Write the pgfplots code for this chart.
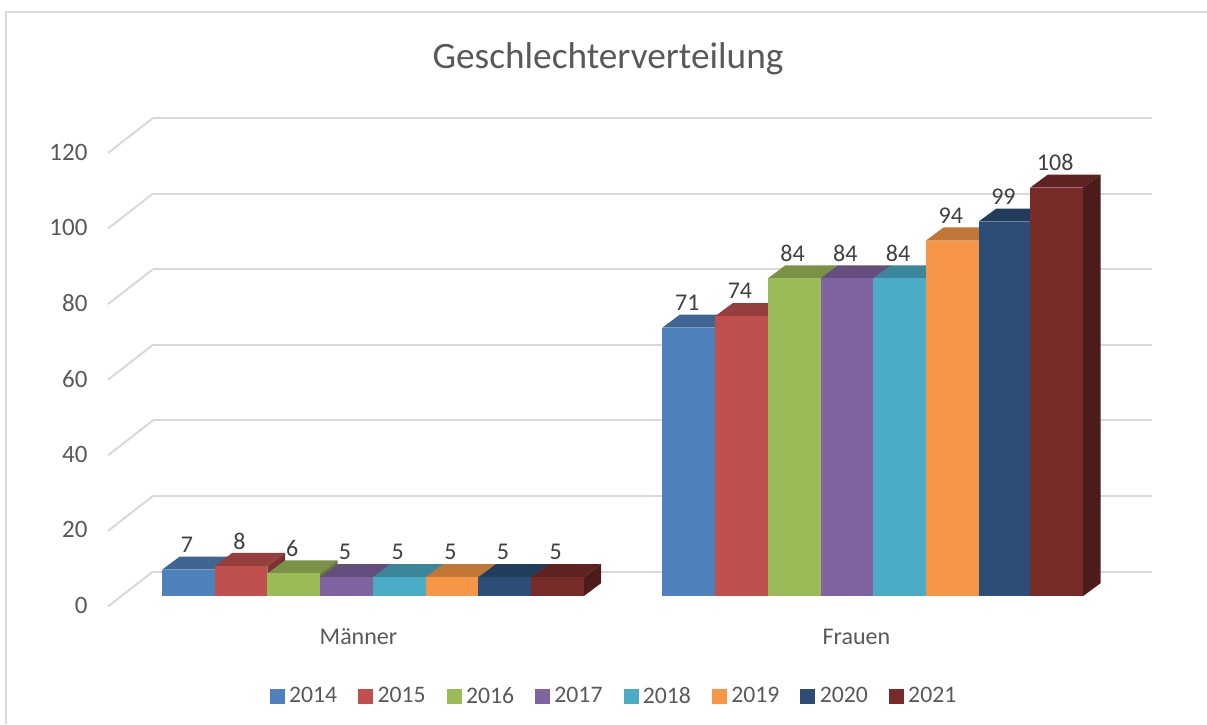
\documentclass[border=0pt]{standalone}
\usepackage{fontspec}
\setmainfont{Carlito}
\usepackage{pgfplots}
\pgfplotsset{compat=1.18}
\definecolor{cA}{HTML}{4F81BD}
\definecolor{cB}{HTML}{C0504D}
\definecolor{cC}{HTML}{9BBB59}
\definecolor{cD}{HTML}{8064A2}
\definecolor{cE}{HTML}{4BACC6}
\definecolor{cF}{HTML}{F79646}
\definecolor{cG}{HTML}{2C4D75}
\definecolor{cH}{HTML}{772C2A}
\definecolor{gridc}{HTML}{D9D9D9}
\definecolor{txtc}{HTML}{595959}
\definecolor{lblc}{HTML}{404040}
% one bar: left edge (px), value, colour
\newcommand{\threebar}[3]{%
  \pgfmathsetmacro{\xa}{#1}%
  \pgfmathsetmacro{\xb}{#1+52.7}%
  \pgfmathsetmacro{\xc}{#1+52.7+17.6}%
  \pgfmathsetmacro{\xd}{#1+17.6}%
  \pgfmathsetmacro{\xm}{#1+26.35}%
  \pgfmathsetmacro{\yt}{#2+3.45}%
  \pgfmathsetmacro{\yz}{3.45}%
  \addplot[forget plot,fill=#3!64!black,draw=none] coordinates {(\xb,0)(\xc,\yz)(\xc,\yt)(\xb,#2)};
  \addplot[forget plot,fill=#3!78!black,draw=none] coordinates {(\xa,#2)(\xd,\yt)(\xc,\yt)(\xb,#2)};
  \addplot[forget plot,ybar,bar width=52.7,bar shift=0pt,fill=#3,draw=none,
    nodes near coords,
    nodes near coords style={anchor=center,yshift=25pt,xshift=-1.5pt,text=lblc,font=\fontsize{24}{24}\selectfont}]
    coordinates {(\xm,#2)};
}
\begin{document}
\begin{tikzpicture}
\useasboundingbox (0pt,0pt) rectangle (1207pt,724pt);
% wall with gridlines and value axis
\begin{axis}[
  name=wall,
  scale only axis, at={(153pt,152.5pt)}, anchor=south west,
  width=999pt, height=453.5pt,
  xmin=153, xmax=1152, ymin=0, ymax=120,
  clip=false,
  ytick={0,20,40,60,80,100,120},
  xtick={358,856}, xticklabels={Männer,Frauen},
  ymajorgrids, grid style={gridc,line width=2pt},
  axis line style={draw=none},
  major tick length=0pt,
  yticklabel style={anchor=east,xshift=-62pt,yshift=-34pt,text=txtc,font=\fontsize{25}{25}\selectfont},
  xticklabel style={anchor=center,yshift=-65pt,xshift=0.5pt,text=txtc,font=\fontsize{24}{24}\selectfont},
  /pgf/number format/assume math mode=true,
]
\addplot[gridc,line width=2pt] coordinates {(108,-9.26)(153,0)};
\addplot[gridc,line width=2pt] coordinates {(108,10.74)(153,20)};
\addplot[gridc,line width=2pt] coordinates {(108,30.74)(153,40)};
\addplot[gridc,line width=2pt] coordinates {(108,50.74)(153,60)};
\addplot[gridc,line width=2pt] coordinates {(108,70.74)(153,80)};
\addplot[gridc,line width=2pt] coordinates {(108,90.74)(153,100)};
\addplot[gridc,line width=2pt] coordinates {(108,110.74)(153,120)};
\end{axis}
% bars, in a frame of picture pixels horizontally and chart values vertically
\begin{axis}[
  scale only axis, at={(0pt,0pt)}, anchor=south west,
  width=1207pt, height=724pt,
  xmin=0, xmax=1207, ymin=-33.78, ymax=157.58,
  hide axis,
  /pgf/number format/assume math mode=true,
  title={Geschlechterverteilung},
  title style={at={(608/1207,1-65/724)},anchor=center,text=txtc,font=\fontsize{37.3}{37.3}\selectfont},
  legend columns=8,
  legend style={at={(614/1207,1-696/724)},anchor=center,draw=none,fill=none,
    text=txtc,font=\fontsize{23.7}{23.7}\selectfont,
    /tikz/every even column/.append style={column sep=19pt},
    /tikz/every odd column/.append style={column sep=3pt}},
  legend cell align=left,
  legend image code/.code={\fill[#1] (0pt,-7pt) rectangle (14pt,7pt);},
]
\addplot[forget plot,gridc,line width=2pt] coordinates {(6,-33.78)(6,154.5)(1207,154.5)};
\threebar{162}{7}{cA}
\threebar{214.7}{8}{cB}
\threebar{267.4}{6}{cC}
\threebar{320.1}{5}{cD}
\threebar{372.8}{5}{cE}
\threebar{425.5}{5}{cF}
\threebar{478.2}{5}{cG}
\threebar{530.9}{5}{cH}
\threebar{662.4}{71}{cA}
\threebar{715.1}{74}{cB}
\threebar{767.8}{84}{cC}
\threebar{820.5}{84}{cD}
\threebar{873.2}{84}{cE}
\threebar{925.9}{94}{cF}
\threebar{978.6}{99}{cG}
\threebar{1030.3}{108}{cH}
\addlegendimage{cA}\addlegendentry{2014}
\addlegendimage{cB}\addlegendentry{2015}
\addlegendimage{cC}\addlegendentry{2016}
\addlegendimage{cD}\addlegendentry{2017}
\addlegendimage{cE}\addlegendentry{2018}
\addlegendimage{cF}\addlegendentry{2019}
\addlegendimage{cG}\addlegendentry{2020}
\addlegendimage{cH}\addlegendentry{2021}
\end{axis}
\end{tikzpicture}
\end{document}
